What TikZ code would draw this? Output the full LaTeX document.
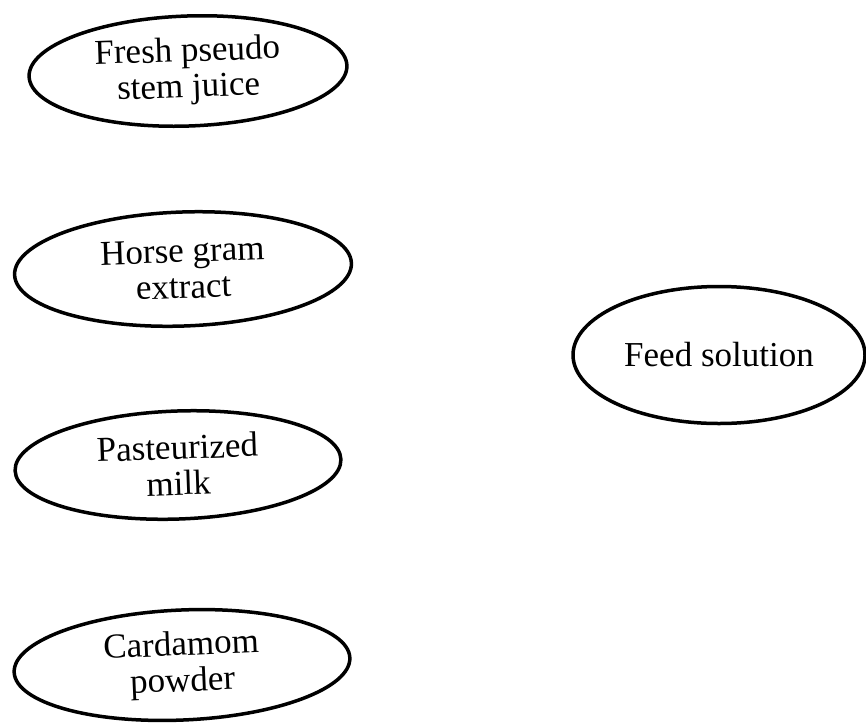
\documentclass[tikz,border=0pt]{standalone}
\usepackage{fontspec}
\setmainfont{Liberation Serif}
\usetikzlibrary{shapes.geometric}
\begin{document}
\begin{tikzpicture}[x=1pt,y=-1pt,
  oval/.style={ellipse,draw=black,line width=3.5pt,inner sep=0pt,align=center,
    font=\fontsize{35}{36}\selectfont}]
\useasboundingbox (0,0) rectangle (866,723);
\node[oval,minimum width=318,minimum height=110,rotate=2] (fresh) at (188,71) {Fresh pseudo\\stem juice};
\node[oval,minimum width=337,minimum height=114,rotate=2] (horse) at (183,269) {Horse gram\\extract};
\node[oval,minimum width=326,minimum height=108,rotate=2] (milk) at (178,465) {Pasteurized\\milk};
\node[oval,minimum width=336,minimum height=110,rotate=2.5] (card) at (182,665) {Cardamom\\powder};
\node[oval,minimum width=292,minimum height=137] (feed) at (719,355) {Feed solution};
\end{tikzpicture}
\end{document}
